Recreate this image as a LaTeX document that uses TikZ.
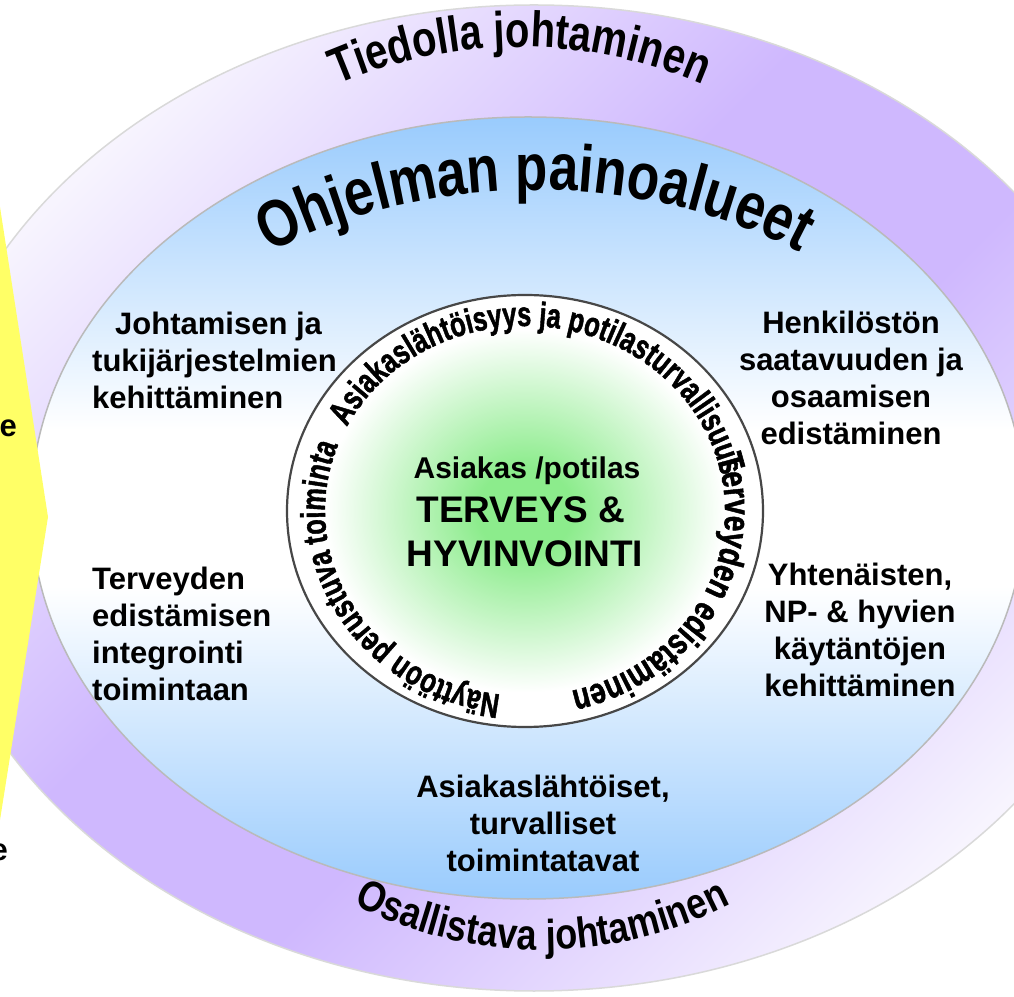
\documentclass[tikz,border=0pt]{standalone}
\usepackage{fontspec}
\setmainfont{Liberation Sans}
\newfontfamily\heavyfont[FakeBold=1.6]{Liberation Sans}
\usetikzlibrary{decorations.text}
\definecolor{lav}{RGB}{247,244,254}
\definecolor{purp}{RGB}{207,184,254}
\definecolor{lblue}{RGB}{153,203,253}
\definecolor{lgreen}{RGB}{140,236,140}
\definecolor{yel}{RGB}{255,255,102}
\pgfdeclarehorizontalshading{ringshade}{100bp}{color(0bp)=(lav); color(25bp)=(lav); color(44bp)=(purp); color(56bp)=(purp); color(75bp)=(lav); color(100bp)=(lav)}
\pgfdeclareverticalshading{blueshade}{100bp}{color(0bp)=(lblue); color(25bp)=(lblue); color(45bp)=(white); color(55bp)=(white); color(75bp)=(lblue); color(100bp)=(lblue)}
\pgfdeclareradialshading{greenshade}{\pgfpoint{0bp}{0bp}}{color(0bp)=(lgreen); color(5bp)=(lgreen); color(21bp)=(white); color(50bp)=(white)}
\begin{document}
\begin{tikzpicture}[x=1pt,y=1pt,
  lbl/.style={font=\bfseries\fontsize{31}{37}\selectfont, inner sep=0pt, text=black},
  ctr/.style={font=\bfseries\fontsize{37}{44}\selectfont, inner sep=0pt, anchor=base},
  fx/.style n args={3}{decorate, decoration={text effects along path, text={#1}, text align=#2,
      text effects/.cd, text along path, characters={#3}}}
]
\useasboundingbox (0,0) rectangle (1014,996);
\begin{scope}
\clip (0,0) rectangle (1014,996);
% outer ring
\shade[shading=ringshade, shading angle=-45] (534,498) ellipse [x radius=612pt, y radius=493pt];
\draw[line width=1.5pt, draw=black!15] (534,498) ellipse [x radius=612pt, y radius=493pt];
% blue ellipse
\shade[shading=blueshade] (528,488) ellipse [x radius=497pt, y radius=391pt];
\draw[line width=1.5pt, draw=black!27] (528,488) ellipse [x radius=497pt, y radius=391pt];
% yellow arrow
\fill[yel] (-10,789) -- (0,789) -- (48,479) -- (0,176) -- (-10,176) -- cycle;
\end{scope}
% inner circle
\shade[shading=greenshade] (525,485) ellipse [x radius=238pt, y radius=216pt];
\draw[line width=2.2pt, draw=black!72] (525,485) ellipse [x radius=238pt, y radius=216pt];

% curved titles
\path[fx={Tiedolla johtaminen}{center}{font=\bfseries\fontsize{40}{40}\selectfont, yscale=1.25}]
  ([shift={(520,498)}]135:455pt and 451pt) arc [start angle=135, end angle=45, x radius=455pt, y radius=451pt];
\path[fx={Ohjelman painoalueet}{center}{font=\bfseries\fontsize{53}{53}\selectfont, yscale=1.25}]
  ([shift={(535,488)}]150:445pt and 318pt) arc [start angle=150, end angle=30, x radius=445pt, y radius=318pt];
\path[fx={Osallistava johtaminen}{center}{font=\bfseries\fontsize{36}{36}\selectfont, yscale=1.2}]
  ([shift={(542,498)}]220:430pt and 452pt) arc [start angle=220, end angle=320, x radius=430pt, y radius=452pt];

% ring texts
\path[fx={Näyttöön perustuva toiminta}{left}{font=\heavyfont\bfseries\fontsize{25.5}{25.5}\selectfont, yscale=1.35}]
  ([shift={(525,485)}]263:200pt and 185pt) arc [start angle=263, end angle=120, x radius=200pt, y radius=185pt];
\path[fx={Asiakaslähtöisyys ja potilasturvallisuus}{left}{font=\heavyfont\bfseries\fontsize{25.5}{25.5}\selectfont, yscale=1.35}]
  ([shift={(525,485)}]153:200pt and 185pt) arc [start angle=153, end angle=-20, x radius=200pt, y radius=185pt];
\path[fx={Terveyden edistäminen}{left}{font=\heavyfont\bfseries\fontsize{28}{28}\selectfont, yscale=1.3}]
  ([shift={(525,485)}]17:200pt and 185pt) arc [start angle=17, end angle=-110, x radius=200pt, y radius=185pt];

% centre text
\node[ctr, font=\bfseries\fontsize{30}{36}\selectfont] (c1) at (527,517) {Asiakas /potilas};
\node[ctr] (c2) at (521,473) {TERVEYS \&};
\node[ctr] (c3) at (525,429) {HYVINVOINTI};

% side labels
\node[lbl, align=left, anchor=west] (l1) at (92,635.5) {\hspace*{23pt}Johtamisen ja\\tukijärjestelmien\\kehittäminen};
\node[lbl, align=center] (r1) at (851,618) {Henkilöstön\\saatavuuden ja\\osaamisen\\edistäminen};
\node[lbl, align=left, anchor=west] (l2) at (92,362.5) {Terveyden\\edistämisen\\integrointi\\toimintaan};
\node[lbl, align=center] (r2) at (860,366) {Yhtenäisten,\\NP- \& hyvien\\käytäntöjen\\kehittäminen};
\node[lbl, align=center] (b1) at (543,172.5) {Asiakaslähtöiset,\\turvalliset\\toimintatavat};

% cut-off text at the left edge
\node[lbl, anchor=base east] (e1) at (17,559) {e};
\node[lbl, anchor=base east] (e2) at (8,136) {e};
\end{tikzpicture}
\end{document}
